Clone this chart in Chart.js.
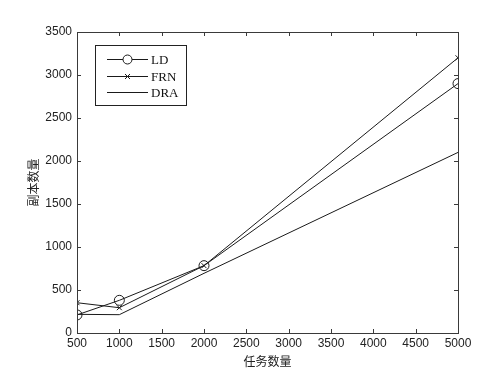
<!DOCTYPE html>
<html>
<head>
<meta charset="utf-8">
<script src="https://cdn.jsdelivr.net/npm/chart.js@4/dist/chart.umd.min.js"></script>
<style>
  html, body { margin: 0; padding: 0; background: #fff; }
  #wrap { width: 489px; height: 379px; }
</style>
</head>
<body>
<div id="wrap"><canvas id="chart" width="489" height="379"></canvas></div>
<script>
// task counts on the x axis
const taskCounts = [500, 1000, 2000, 5000];
// replica counts for each method
const ldValues = [210, 380, 783, 2900];
const frnValues = [352, 294, 783, 3200];
const draValues = [217, 213, 694, 2100];
const seriesNames = ['LD', 'FRN', 'DRA'];

const lineColor = '#1a1a1a';
const axisColor = '#3a3a3a';

function toPoints(vals) {
  return taskCounts.map((t, i) => ({ x: t, y: vals[i] }));
}

// box around plot + inward ticks on all four sides, matlab style
const boxPlugin = {
  id: 'boxTicks',
  afterDraw(chart) {
    const { ctx, chartArea: a, scales } = chart;
    const xs = scales.x, ys = scales.y;
    ctx.save();
    ctx.strokeStyle = axisColor;
    ctx.lineWidth = 1;
    ctx.strokeRect(a.left + 0.5, a.top + 0.5, a.right - a.left, a.bottom - a.top);
    ctx.beginPath();
    xs.ticks.forEach(t => {
      const px = Math.round(xs.getPixelForValue(t.value)) + 0.5;
      ctx.moveTo(px, a.bottom); ctx.lineTo(px, a.bottom - 4);
      ctx.moveTo(px, a.top); ctx.lineTo(px, a.top + 4);
    });
    ys.ticks.forEach(t => {
      const py = Math.round(ys.getPixelForValue(t.value)) + 0.5;
      ctx.moveTo(a.left, py); ctx.lineTo(a.left + 4, py);
      ctx.moveTo(a.right, py); ctx.lineTo(a.right - 4, py);
    });
    ctx.stroke();

    // legend box
    const lx = 95, ly = 45, lw = 91, lh = 60;
    ctx.fillStyle = '#fff';
    ctx.fillRect(lx, ly, lw, lh);
    ctx.strokeStyle = '#222';
    ctx.strokeRect(lx + 0.5, ly + 0.5, lw, lh);
    ctx.font = '13px "Liberation Serif", serif';
    ctx.textBaseline = 'middle';
    const rows = [58.5, 75.5, 92];
    seriesNames.forEach((name, i) => {
      const y = Math.round(rows[i]) + 0.5;
      ctx.strokeStyle = lineColor;
      ctx.beginPath();
      ctx.moveTo(107, y); ctx.lineTo(148, y);
      ctx.stroke();
      const cx = 127.5;
      if (i === 0) {
        ctx.beginPath();
        ctx.arc(cx, y, 4.5, 0, Math.PI * 2);
        ctx.fillStyle = '#fff';
        ctx.fill();
        ctx.stroke();
      } else if (i === 1) {
        ctx.beginPath();
        ctx.moveTo(cx - 2.5, y - 2.5); ctx.lineTo(cx + 2.5, y + 2.5);
        ctx.moveTo(cx - 2.5, y + 2.5); ctx.lineTo(cx + 2.5, y - 2.5);
        ctx.stroke();
      }
      ctx.fillStyle = '#111';
      ctx.fillText(name, 151, y + 1);
    });
    ctx.restore();
  }
};

const tickFont = { family: '"Liberation Sans", Arial, sans-serif', size: 12 };
const plainNumber = v => String(v);

new Chart(document.getElementById('chart'), {
  type: 'line',
  data: {
    datasets: [
      {
        label: seriesNames[0],
        data: toPoints(ldValues),
        borderColor: lineColor,
        borderWidth: 1,
        pointStyle: 'circle',
        pointRadius: 5,
        pointBorderColor: lineColor,
        pointBackgroundColor: 'rgba(0,0,0,0)',
        pointBorderWidth: 1
      },
      {
        label: seriesNames[1],
        data: toPoints(frnValues),
        borderColor: lineColor,
        borderWidth: 1,
        pointStyle: 'crossRot',
        pointRadius: 3.5,
        pointBorderColor: lineColor,
        pointBorderWidth: 1
      },
      {
        label: seriesNames[2],
        data: toPoints(draValues),
        borderColor: lineColor,
        borderWidth: 1,
        pointRadius: 0
      }
    ]
  },
  options: {
    responsive: false,
    animation: false,
    devicePixelRatio: 1,
    layout: { padding: { top: 32, right: 31, left: 0, bottom: 0 } },
    plugins: { legend: { display: false }, tooltip: { enabled: false } },
    scales: {
      x: {
        type: 'linear',
        min: 500,
        max: 5000,
        border: { display: false },
        grid: { display: false, drawTicks: false },
        ticks: {
          stepSize: 500,
          padding: 3,
          color: '#222',
          maxRotation: 0,
          autoSkip: false,
          font: tickFont,
          callback: plainNumber
        },
        title: {
          display: true,
          text: '任务数量',
          color: '#222',
          padding: { top: 0, bottom: 10 },
          font: { family: '"Noto Sans CJK SC", sans-serif', size: 12 }
        },
        afterFit(scale) { scale.height = 46; }
      },
      y: {
        min: 0,
        max: 3500,
        border: { display: false },
        grid: { display: false, drawTicks: false },
        ticks: {
          stepSize: 500,
          padding: 5,
          color: '#222',
          font: tickFont,
          callback: plainNumber
        },
        title: {
          display: true,
          text: '副本数量',
          color: '#222',
          padding: { top: 26, bottom: 0 },
          font: { family: '"Noto Sans CJK SC", sans-serif', size: 12 }
        },
        afterFit(scale) { scale.width = 77; }
      }
    }
  },
  plugins: [boxPlugin]
});
</script>
</body>
</html>
